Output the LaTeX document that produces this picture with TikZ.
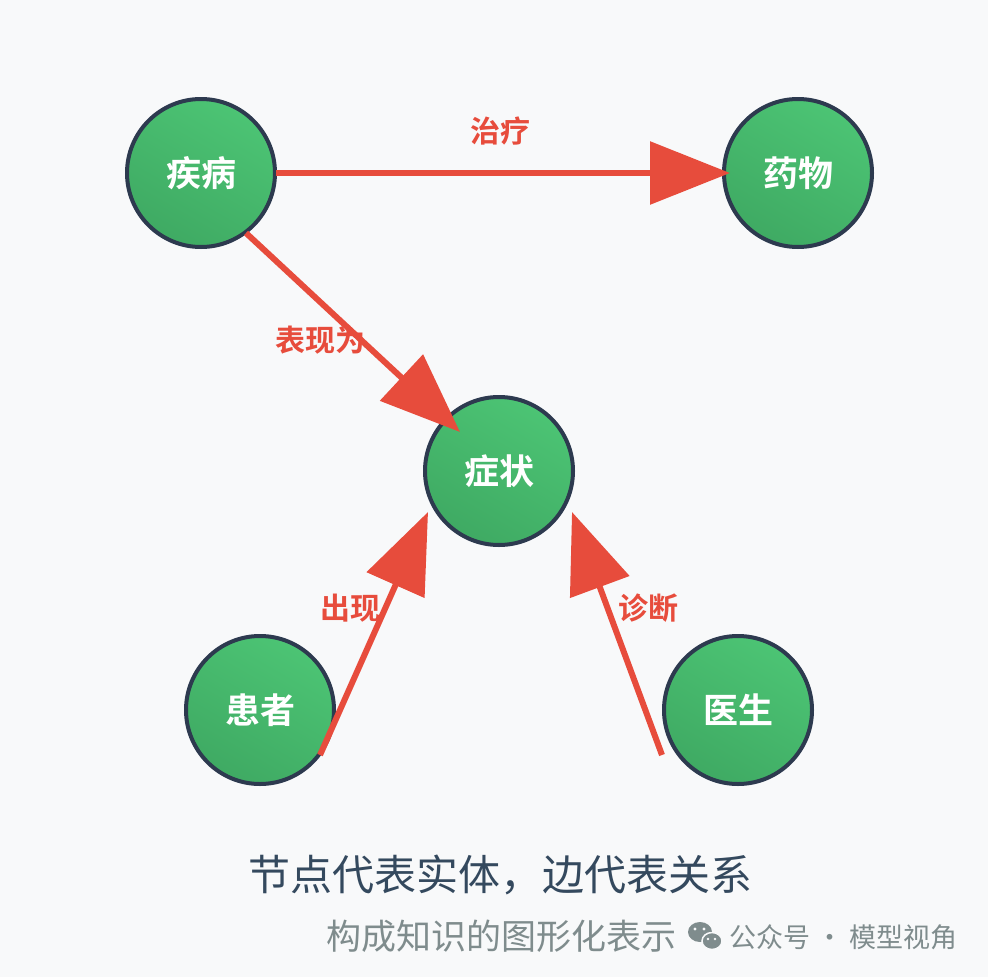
\documentclass[tikz,border=0pt]{standalone}
\usepackage{fontspec}
\usetikzlibrary{arrows.meta}
\newfontfamily\cjk{Noto Sans CJK SC}
\newfontfamily\cjkb{Noto Sans CJK SC Bold}
\definecolor{bg}{HTML}{F8F9FA}
\definecolor{gA}{HTML}{4CC474}
\definecolor{gB}{HTML}{3FAA63}
\definecolor{nav}{HTML}{2D3A4F}
\definecolor{rd}{HTML}{E74C3C}
\definecolor{cap}{HTML}{34495E}
\definecolor{gr}{HTML}{7F8C8D}
\begin{document}
\begin{tikzpicture}[x=1pt,y=-1pt,
  ent/.style={circle,minimum size=148pt,inner sep=0pt,draw=nav,line width=4pt,
    top color=gA,bottom color=gB,shading angle=-30,text=white,font=\cjkb\fontsize{35}{35}\selectfont},
  rel/.style={draw=rd,line width=6pt,-{Triangle[length=80pt,width=62pt]}},
  lab/.style={text=rd,font=\cjkb\fontsize{30}{30}\selectfont}]
\fill[bg] (0,0) rectangle (988,977);
\node[ent] (jb) at (201,173) {疾病};
\node[ent] (yw) at (798,173) {药物};
\node[ent] (zz) at (499,471) {症状};
\node[ent] (hz) at (260,710) {患者};
\node[ent] (ys) at (738,710) {医生};
\coordinate (a1) at (276,173); \coordinate (t1) at (730,173);
\coordinate (a2) at (246,233); \coordinate (t2) at (460,432);
\coordinate (a3) at (320,755); \coordinate (t3) at (428,512);
\coordinate (a4) at (662,755); \coordinate (t4) at (572,512);
\draw[rel] (a1) -- (t1);
\draw[rel] (a2) -- (t2);
\draw[rel] (a3) -- (t3);
\draw[rel] (a4) -- (t4);
\node[lab] (l1) at (500,131) {治疗};
\node[lab] (l2) at (320,340) {表现为};
\node[lab] (l3) at (350,608) {出现};
\node[lab] (l4) at (648,608) {诊断};
\node[text=cap,font=\cjk\fontsize{42}{42}\selectfont] (c1) at (500,875) {节点代表实体，边代表关系};
\node[text=gr,font=\cjk\fontsize{35}{35}\selectfont,anchor=east] (c2) at (680,936) {构成知识的图形化表示};
\begin{scope}[gr]
\fill (700,932) ellipse (12 and 10);
\fill[bg] (695,929) circle (1.6); \fill[bg] (704,929) circle (1.6);
\draw[bg,line width=1.5pt,fill=gr] (712,941) ellipse (10 and 8.5);
\fill[bg] (708,939) circle (1.3); \fill[bg] (715,939) circle (1.3);
\end{scope}
\node[text=gr,font=\cjk\fontsize{27}{27}\selectfont,anchor=west] (c3) at (726,937) {公众号 · 模型视角};
\end{tikzpicture}
\end{document}
